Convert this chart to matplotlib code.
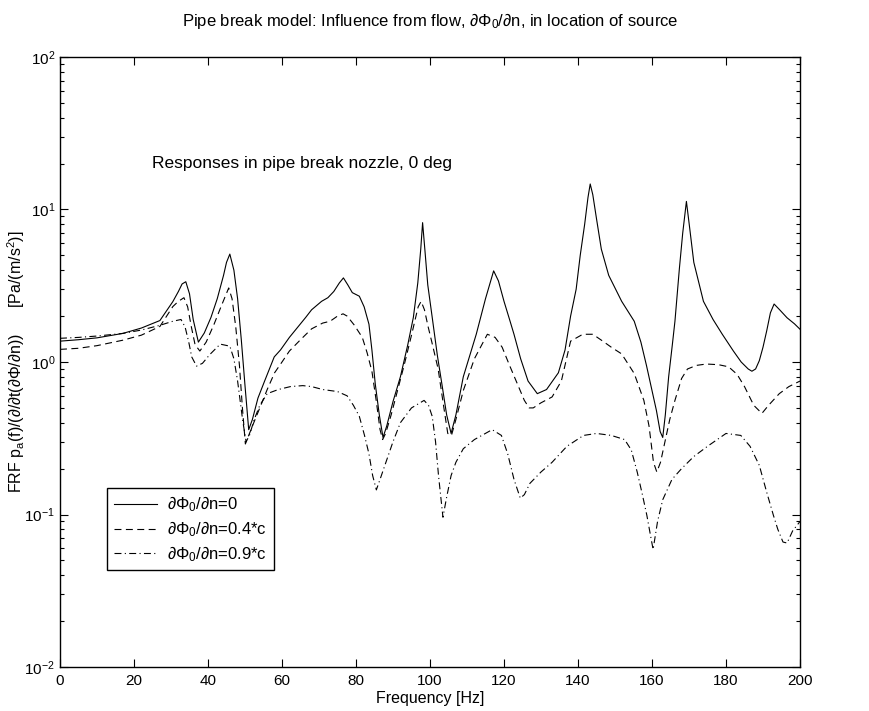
import matplotlib
matplotlib.use("Agg")
import matplotlib.pyplot as plt
from matplotlib.ticker import LogLocator, NullFormatter

plt.rcParams['font.family'] = ['Liberation Sans', 'DejaVu Sans']
plt.rcParams['mathtext.fontset'] = 'custom'
plt.rcParams['mathtext.rm'] = 'Liberation Sans'
plt.rcParams['mathtext.it'] = 'Liberation Sans:italic'
plt.rcParams['mathtext.bf'] = 'Liberation Sans:bold'
plt.rcParams['lines.scale_dashes'] = False

# ---- data ----
f_solid = [0, 5, 10, 17, 22, 27, 30.5, 32, 33, 34, 35, 36, 37.4, 39, 40.8, 42.5, 44.2, 45, 45.9, 47, 48, 49, 50, 51,
           52, 53.5, 55.3, 57.9, 59.6, 62, 66.4, 68, 70.7, 72.4, 74, 75.5, 76.6, 77.8, 79, 80.9, 82.2, 83.5, 84.3,
           85.2, 86.3, 87.3, 88.3, 90, 92, 94, 95.5, 96.7, 97.5, 98, 98.6, 99.4, 100.6, 102, 103.2, 104.5, 105.7,
           107, 109, 112.5, 115, 117.2, 118.5, 120, 121.5, 122.7, 124.5, 126.5, 129, 131.5, 134.7, 136.5, 138,
           139.5, 140.6, 141.8, 142.7, 143.3, 144, 145, 146.3, 148.3, 151.8, 155.2, 157, 158.5, 160, 161.2, 162.2,
           162.9, 163.6, 164.5, 165.5, 166.2, 167.4, 168.3, 169.3, 170.2, 171.3, 173.9, 176.5, 179, 182, 184.1,
           186, 187, 188, 189, 190, 191, 192, 193, 194.5, 196.5, 198.5, 200]
v_solid = [1.37, 1.40, 1.44, 1.54, 1.67, 1.87, 2.49, 2.9, 3.25, 3.36, 2.8, 1.9, 1.35, 1.55, 1.96, 2.6, 3.7, 4.5, 5.1,
           4.0, 2.6, 1.4, 0.7, 0.36, 0.42, 0.58, 0.75, 1.08, 1.2, 1.45, 1.96, 2.2, 2.5, 2.64, 2.9, 3.3, 3.56, 3.2,
           2.85, 2.7, 2.3, 1.77, 1.2, 0.72, 0.45, 0.32, 0.38, 0.55, 0.8, 1.3, 1.96, 3.3, 5.5, 8.2, 5.5, 3.2, 1.96,
           1.1, 0.72, 0.45, 0.34, 0.45, 0.8, 1.52, 2.6, 3.96, 3.4, 2.5, 1.9, 1.52, 1.05, 0.75, 0.62, 0.66, 0.85,
           1.2, 2.0, 3.0, 5.0, 8.0, 12.0, 14.7, 12.5, 8.7, 5.5, 3.7, 2.5, 1.85, 1.35, 0.95, 0.65, 0.48, 0.35, 0.32,
           0.45, 0.8, 1.3, 1.85, 4.1, 7.0, 11.3, 7.5, 4.5, 2.5, 1.9, 1.52, 1.18, 1.0, 0.9, 0.87, 0.9, 1.02, 1.25,
           1.6, 2.1, 2.4, 2.2, 1.95, 1.78, 1.64]

f_dash = [0, 5, 10, 17, 22, 27, 30.5, 32, 33.5, 34.5, 35.5, 36.5, 37.8, 39.5, 41.6, 43.5, 45.6, 46.5, 47.5, 48.5, 49.3,
          50.1, 51, 52, 54, 56, 58, 60, 62, 65, 68, 71, 73, 75, 76.5, 77.6, 79.5, 81.7, 83, 84.3, 85.5, 86.5, 87.2,
          88, 89.5, 91, 93, 95, 96.8, 97.6, 98.5, 99.5, 100.5, 102.2, 103.5, 104.8, 105.8, 107, 109, 112, 115.5,
          117.6, 119.5, 121.5, 123.6, 125.5, 126.8, 127.9, 130, 133, 135.5, 138, 141.3, 144, 146.7, 149, 151.8,
          155.2, 157.8, 159.2, 160.4, 161.3, 162.3, 163.5, 164.8, 166.2, 168, 169.6, 172, 174.7, 178, 180.7, 183,
          185, 187.5, 189.7, 191.5, 194.4, 197, 200]
v_dash = [1.21, 1.23, 1.28, 1.39, 1.5, 1.71, 2.31, 2.5, 2.64, 2.3, 1.7, 1.3, 1.18, 1.35, 1.76, 2.3, 3.06, 2.6, 1.7,
          0.95, 0.5, 0.29, 0.33, 0.38, 0.5, 0.66, 0.85, 1.0, 1.18, 1.4, 1.65, 1.8, 1.85, 2.0, 2.07, 2.0, 1.75, 1.45,
          1.15, 0.87, 0.55, 0.36, 0.31, 0.34, 0.45, 0.62, 0.95, 1.5, 2.3, 2.5, 2.2, 1.7, 1.35, 0.9, 0.55, 0.34,
          0.33, 0.42, 0.65, 1.05, 1.52, 1.45, 1.25, 0.95, 0.72, 0.56, 0.5, 0.5, 0.54, 0.59, 0.75, 1.37, 1.52, 1.52,
          1.37, 1.25, 1.13, 0.84, 0.56, 0.38, 0.22, 0.19, 0.22, 0.3, 0.42, 0.56, 0.78, 0.9, 0.95, 0.97, 0.96, 0.93,
          0.83, 0.69, 0.52, 0.46, 0.52, 0.62, 0.69, 0.75]

f_dashdot = [0, 5, 10, 17, 22, 27, 30.5, 32.7, 33.8, 34.8, 35.6, 36.9, 38.5, 40.5, 43.3, 45.9, 47, 48, 49.4, 50.3,
             51.2, 52.5, 54, 56, 59, 62.3, 65.6, 68, 71, 75, 77.6, 79.3, 80.9, 82.3, 83.5, 84.5, 85.5, 86.5, 87.8,
             90, 92, 95, 98.4, 99.6, 100.6, 101.5, 102.3, 103.5, 104.5, 105.7, 107, 109, 112, 116.8, 119.3, 121,
             122.7, 124.4, 125.5, 127, 130, 133, 137, 141.5, 145, 149, 152.6, 154.4, 156, 157.4, 158.6, 159.5,
             160.3, 161.5, 162.9, 165.4, 168, 171.3, 175, 180, 184, 186.5, 189, 191, 192.8, 194, 195.4, 196.5, 198,
             200]
v_dashdot = [1.43, 1.45, 1.48, 1.54, 1.62, 1.74, 1.85, 1.9, 1.7, 1.35, 1.08, 0.94, 0.98, 1.12, 1.31, 1.27, 1.05,
             0.75, 0.41, 0.3, 0.33, 0.42, 0.52, 0.62, 0.66, 0.69, 0.70, 0.69, 0.66, 0.64, 0.6, 0.52, 0.44, 0.33,
             0.25, 0.18, 0.145, 0.17, 0.21, 0.3, 0.4, 0.5, 0.56, 0.52, 0.44, 0.3, 0.18, 0.096, 0.13, 0.18, 0.22,
             0.27, 0.31, 0.36, 0.33, 0.25, 0.17, 0.128, 0.135, 0.16, 0.19, 0.22, 0.28, 0.33, 0.34, 0.33, 0.31,
             0.265, 0.19, 0.135, 0.099, 0.075, 0.059, 0.09, 0.125, 0.17, 0.2, 0.24, 0.28, 0.34, 0.33, 0.28, 0.21,
             0.14, 0.099, 0.08, 0.066, 0.065, 0.078, 0.09]

labels = [r'∂Φ$_0$/∂n=0', r'∂Φ$_0$/∂n=0.4*c', r'∂Φ$_0$/∂n=0.9*c']
xticks = [0, 20, 40, 60, 80, 100, 120, 140, 160, 180, 200]

# ---- figure ----
W, H = 870, 711
fig = plt.figure(figsize=(W / 100, H / 100), dpi=100)
L, R, T, B = 60, 800, 57, 667
ax = fig.add_axes([L / W, (H - B) / H, (R - L) / W, (B - T) / H])

lw = 0.8
ax.plot(f_solid, v_solid, color='black', lw=lw, ls='-', label=labels[0])
ax.plot(f_dash, v_dash, color='black', lw=lw, ls=(0, (5.0, 3.2)), label=labels[1])
ax.plot(f_dashdot, v_dashdot, color='black', lw=lw, ls=(0, (5.0, 2.4, 0.8, 2.4)), label=labels[2])

ax.set_yscale('log')
ax.set_xlim(0, 200)
ax.set_ylim(1e-2, 1e2)
ax.set_xticks(xticks)
ax.set_xticklabels([str(t) for t in xticks])
ax.yaxis.set_major_locator(LogLocator(base=10, numticks=10))
ax.yaxis.set_minor_locator(LogLocator(base=10, subs=range(2, 10), numticks=20))
ax.yaxis.set_minor_formatter(NullFormatter())
ax.tick_params(which='both', direction='in', top=True, right=True, labelsize=11, colors='black')
ax.tick_params(which='major', length=6, width=0.8)
ax.tick_params(which='minor', length=3, width=0.8)
ax.tick_params(axis='x', pad=5)
for s in ax.spines.values():
    s.set_linewidth(1.0)

ax.set_xlabel('Frequency [Hz]', fontsize=11.5, labelpad=2)
fig.text(16 / W, 1 - 362 / H, r'FRF p$_\mathrm{a}$(f)/(∂/∂t(∂Φ/∂n))      [Pa/(m/s$^2$)]', fontsize=11.5,
         rotation=90, ha='center', va='center')
ax.set_title(r'Pipe break model: Influence from flow, ∂Φ$_0$/∂n, in location of source', fontsize=12, pad=22)

ax.text(25, 20, 'Responses in pipe break nozzle, 0 deg', fontsize=12.5, va='center', ha='left')

leg = ax.legend(loc='upper left', bbox_to_anchor=(107 / W, 1 - 488 / H), bbox_transform=fig.transFigure,
                fancybox=False, edgecolor='black', framealpha=1, fontsize=12, handlelength=2.6,
                borderpad=0.4, labelspacing=0.3, handletextpad=0.6, borderaxespad=0)
leg.get_frame().set_linewidth(1.0)

fig.savefig('out.png', dpi=100)
